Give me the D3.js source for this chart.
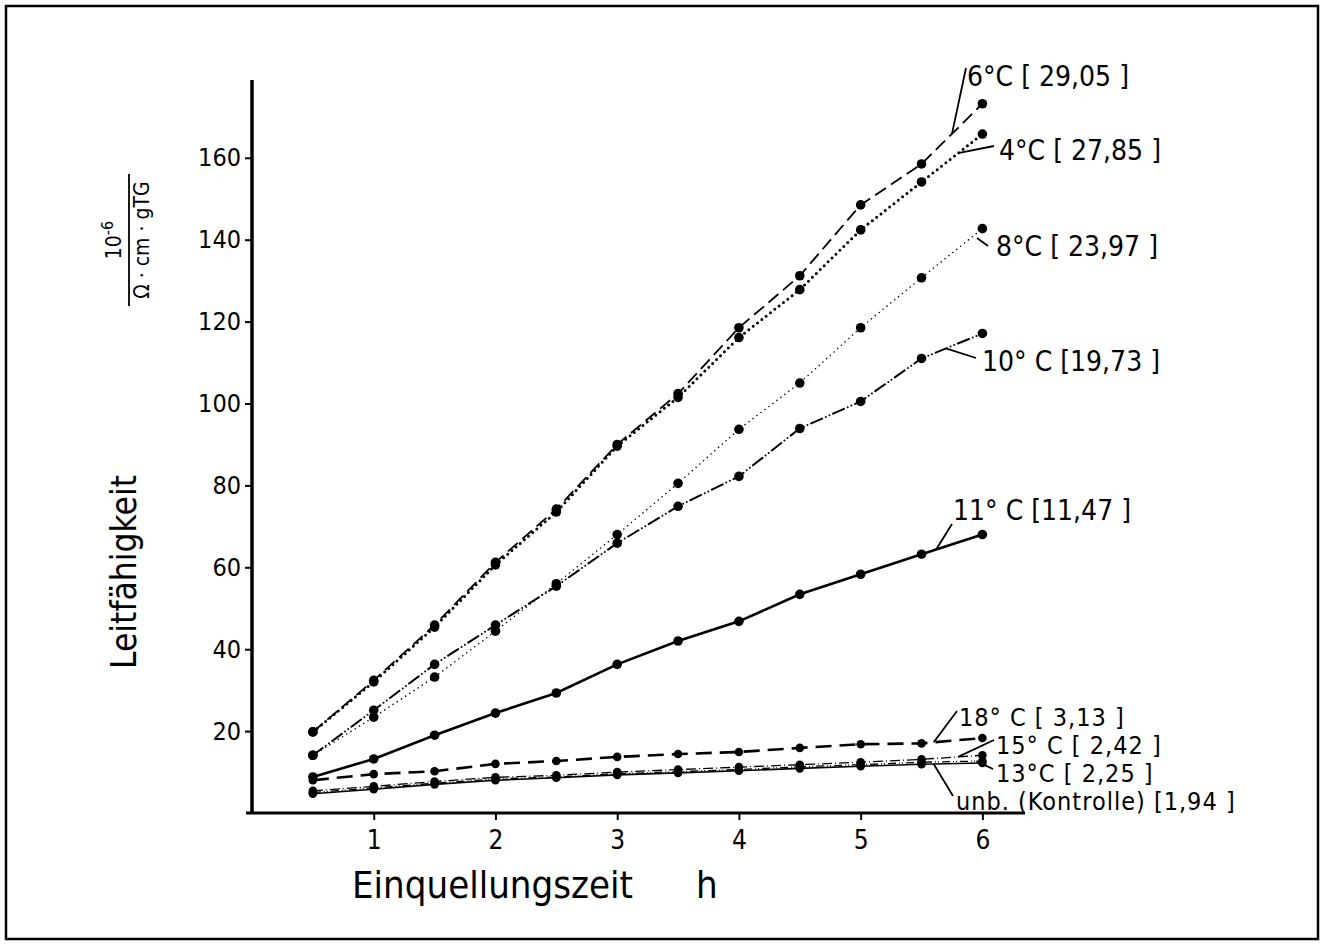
<!DOCTYPE html>
<html>
<head>
<meta charset="utf-8">
<script src="https://cdn.jsdelivr.net/npm/d3@7"></script>
<style>
  body { margin: 0; background: #fff; }
  svg text { font-family: "DejaVu Sans Condensed", "Liberation Sans Narrow", "DejaVu Sans", sans-serif; fill: #000; }
</style>
</head>
<body>
<script>
(function() {
    "use strict";

    //swelling time in hours
    var hours = [0.5, 1, 1.5, 2, 2.5, 3, 3.5, 4, 4.5, 5, 5.5, 6];

    //conductivity per series
    var t6  = [19.8, 32.4, 45.9, 61.2, 74.2, 90.0, 102.4, 118.5, 131.2, 148.5, 158.5, 173.2];
    var t4  = [19.8, 32.0, 45.4, 60.6, 73.5, 89.6, 101.5, 116.1, 127.8, 142.4, 154.1, 165.8];
    var t8  = [14.1, 23.4, 33.2, 44.4, 56.0, 68.0, 80.5, 93.7, 105.0, 118.5, 130.7, 142.7];
    var t10 = [14.1, 25.1, 36.3, 45.9, 55.4, 65.9, 74.9, 82.2, 93.9, 100.5, 111.0, 117.1];
    var t11 = [8.8, 13.2, 19.0, 24.4, 29.3, 36.3, 42.0, 46.8, 53.4, 58.3, 63.2, 68.0];
    var t18 = [8.0, 9.5, 10.2, 12.0, 12.7, 13.7, 14.4, 14.9, 15.9, 16.8, 17.0, 18.3];
    var t15 = [5.4, 6.5, 7.7, 8.7, 9.2, 10.0, 10.6, 11.2, 11.8, 12.4, 13.1, 14.1];
    var t13 = [5.0, 6.1, 7.3, 8.3, 8.8, 9.6, 10.1, 10.6, 11.3, 11.8, 12.4, 12.7];
    var unb = [4.7, 5.8, 7.0, 8.0, 8.6, 9.3, 9.8, 10.3, 10.9, 11.4, 11.9, 12.2];

    var seriesNames = ["6", "4", "8", "10", "11", "18", "15", "13", "unb"];
    var seriesValues = [t6, t4, t8, t10, t11, t18, t15, t13, unb];
    var seriesLabels = ["6°C [ 29,05 ]", "4°C [ 27,85 ]", "8°C [ 23,97 ]", "10° C [19,73 ]",
        "11° C [11,47 ]", "18° C [ 3,13 ]", "15° C [ 2,42 ]", "13°C [ 2,25 ]", "unb. (Kontrolle) [1,94 ]"];

    var xTicks = [1, 2, 3, 4, 5, 6];
    var yTicks = [20, 40, 60, 80, 100, 120, 140, 160];

    //line styles per series
    var styles = {
        "6":   { w: 1.8, dash: "13,6", cap: "butt" },
        "4":   { w: 3.0, dash: "0,5.5", cap: "round" },
        "8":   { w: 1.6, dash: "0,5", cap: "round" },
        "10":  { w: 2.0, dash: "12,4,0,4,0,4", cap: "round" },
        "11":  { w: 2.6, dash: null, cap: "butt" },
        "18":  { w: 2.6, dash: "16,8", cap: "butt" },
        "15":  { w: 1.3, dash: "10,3,1,3", cap: "butt" },
        "13":  { w: 1.3, dash: "8,3,1,2,1,3", cap: "butt" },
        "unb": { w: 1.6, dash: null, cap: "butt" }
    };

    //label text position, font size, leader start, and hour where the leader meets the curve
    var labelPos = {
        "6":   { tx: 967, ty: 86,  fs: 28, lx: 966, ly: 68,  h: 5.75 },
        "4":   { tx: 999, ty: 160, fs: 28, lx: 994, ly: 146, h: 5.8 },
        "8":   { tx: 996, ty: 256, fs: 28, lx: 988, ly: 246, h: null, ex: 977, ey: 238 },
        "10":  { tx: 982, ty: 371, fs: 28, lx: 976, ly: 358, h: 5.7 },
        "11":  { tx: 953, ty: 520, fs: 28, lx: 952, ly: 524, h: 5.62 },
        "18":  { tx: 959, ty: 726, fs: 25, lx: 957, ly: 711, h: 5.6 },
        "15":  { tx: 996, ty: 754, fs: 25, lx: 994, ly: 740, h: 5.8 },
        "13":  { tx: 996, ty: 782, fs: 25, lx: 993, ly: 769, h: 5.95 },
        "unb": { tx: 956, ty: 810, fs: 25, lx: 953, ly: 796, h: 5.6 }
    };

    var W = 1324, H = 945;
    var svg = d3.select("body").append("svg").attr("width", W).attr("height", H);

    //outer frame
    svg.append("rect").attr("x", 6).attr("y", 6).attr("width", W - 12).attr("height", H - 12)
        .attr("fill", "none").attr("stroke", "#000").attr("stroke-width", 2.5);

    var x = d3.scaleLinear().domain([0, 6.35]).range([252, 1025]);
    var y = d3.scaleLinear().domain([0, 179]).range([813, 80]);

    //x axis
    var gx = svg.append("g").attr("transform", "translate(0," + y(0) + ")")
        .call(d3.axisBottom(x).tickValues(xTicks).tickSize(7).tickSizeOuter(0).tickPadding(11)
            .tickFormat(d3.format("d")));
    gx.select(".domain").remove();
    gx.selectAll(".tick line").attr("stroke-width", 2);
    gx.selectAll(".tick text").attr("font-size", 26);
    svg.append("line").attr("x1", 246).attr("x2", x(6.35)).attr("y1", y(0)).attr("y2", y(0))
        .attr("stroke", "#000").attr("stroke-width", 3);

    //y axis
    var gy = svg.append("g").attr("transform", "translate(" + x(0) + ",0)")
        .call(d3.axisLeft(y).tickValues(yTicks).tickSize(7).tickSizeOuter(0).tickPadding(4));
    gy.select(".domain").remove();
    gy.selectAll(".tick line").attr("stroke-width", 2);
    gy.selectAll(".tick text").attr("font-size", 25);
    svg.append("line").attr("x1", x(0)).attr("x2", x(0)).attr("y1", y(179)).attr("y2", y(0) + 1)
        .attr("stroke", "#000").attr("stroke-width", 3.5);

    //axis titles
    svg.append("text").attr("x", 352).attr("y", 898).attr("font-size", 38).text("Einquellungszeit");
    svg.append("text").attr("x", 696).attr("y", 898).attr("font-size", 38).text("h");

    svg.append("text").attr("transform", "translate(136,572) rotate(-90)")
        .attr("text-anchor", "middle").attr("font-size", 35).text("Leitfähigkeit");

    var frac = svg.append("g").attr("transform", "translate(129,240) rotate(-90)");
    frac.append("text").attr("x", 0).attr("y", -8).attr("text-anchor", "middle").attr("font-size", 21)
        .html('10<tspan dy="-8" font-size="16">-6</tspan>');
    frac.append("line").attr("x1", -66).attr("x2", 66).attr("y1", 0).attr("y2", 0)
        .attr("stroke", "#000").attr("stroke-width", 1.8);
    frac.append("text").attr("x", 0).attr("y", 20).attr("text-anchor", "middle").attr("font-size", 21)
        .text("Ω · cm · gTG");

    //curves
    var line = d3.line().x(function(d) { return x(d[0]); }).y(function(d) { return y(d[1]); });

    seriesNames.forEach(function(name, i) {
        var pts = hours.map(function(h, j) { return [h, seriesValues[i][j]]; });
        var s = styles[name];
        svg.append("path").datum(pts).attr("d", line)
            .attr("fill", "none").attr("stroke", "#000")
            .attr("stroke-width", s.w).attr("stroke-linecap", s.cap)
            .attr("stroke-dasharray", s.dash);
        svg.append("g").selectAll("circle").data(pts).enter().append("circle")
            .attr("cx", function(d) { return x(d[0]); })
            .attr("cy", function(d) { return y(d[1]); })
            .attr("r", name === "18" || name === "15" || name === "13" || name === "unb" ? 4.3 : 4.8)
            .attr("fill", "#000");
    });

    //labels with leader lines
    function valueAt(vals, h) {
        var i = d3.bisectLeft(hours, h);
        var h0 = hours[i - 1], h1 = hours[i];
        var t = (h - h0) / (h1 - h0);
        return vals[i - 1] + t * (vals[i] - vals[i - 1]);
    }

    seriesNames.forEach(function(name, i) {
        var p = labelPos[name];
        var ex = p.h === null ? p.ex : x(p.h);
        var ey = p.h === null ? p.ey : y(valueAt(seriesValues[i], p.h));
        svg.append("line").attr("x1", p.lx).attr("y1", p.ly).attr("x2", ex).attr("y2", ey)
            .attr("stroke", "#000").attr("stroke-width", 1.8);
        svg.append("text").attr("x", p.tx).attr("y", p.ty).attr("font-size", p.fs)
            .attr("letter-spacing", p.fs < 28 ? 1 : 0).text(seriesLabels[i]);
    });
}());
</script>
</body>
</html>
